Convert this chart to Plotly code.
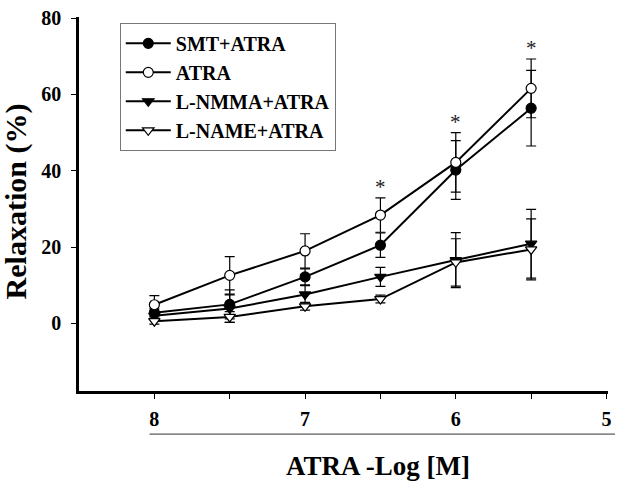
import plotly.graph_objects as go

# ---- data ----
conc = [8, 7.5, 7, 6.5, 6, 5.5]
smt_atra = [2.8, 5.0, 12.2, 20.5, 40.2, 56.4]
smt_atra_se = [1.0, 3.8, 2.1, 3.2, 7.7, 9.9]
atra = [4.9, 12.6, 19.0, 28.4, 42.2, 61.6]
atra_se = [2.4, 4.9, 4.5, 4.5, 7.8, 7.7]
lnmma_atra = [2.0, 3.9, 7.6, 12.2, 16.6, 20.9]
lnmma_atra_se = [0.8, 3.6, 2.3, 2.5, 7.2, 9.0]
lname_atra = [0.6, 1.7, 4.5, 6.4, 16.0, 19.4]
lname_atra_se = [0.8, 1.4, 1.0, 1.0, 6.2, 8.0]
signif_x = [6.5, 6, 5.5]

x_tickvals = [8, 7.5, 7, 6.5, 6, 5.5, 5]
x_ticktext = ["8", "", "7", "", "6", "", "5"]
y_tickvals = [0, 20, 40, 60, 80]

FONT = "Liberation Serif"

series = [
    ("SMT+ATRA", smt_atra, smt_atra_se, "circle", "black"),
    ("ATRA", atra, atra_se, "circle", "white"),
    ("L-NMMA+ATRA", lnmma_atra, lnmma_atra_se, "triangle-down", "black"),
    ("L-NAME+ATRA", lname_atra, lname_atra_se, "triangle-down", "white"),
]

fig = go.Figure()
for name, ys, se, sym, fill in series:
    fig.add_trace(go.Scatter(
        x=conc, y=ys, name=name, mode="lines+markers",
        line=dict(color="black", width=2),
        marker=dict(symbol=sym, size=10, color=fill,
                    line=dict(color="black", width=1.2)),
        error_y=dict(type="data", array=se, visible=True,
                     color="black", thickness=1.2, width=5),
    ))

# significance asterisks
atra_map = dict(zip(conc, zip(atra, atra_se)))
for sx in signif_x:
    v, s = atra_map[sx]
    fig.add_annotation(x=sx, y=v + s + 3.4, text="*", showarrow=False,
                       font=dict(family=FONT, size=21, color="#222222"),
                       xanchor="center", yanchor="middle", yshift=-2)

fig.update_layout(
    width=618, height=486,
    margin=dict(l=79, r=7, t=9, b=95),
    paper_bgcolor="white", plot_bgcolor="white",
    font=dict(family=FONT, color="black"),
    showlegend=True,
    legend=dict(
        x=(120 - 79) / 532, y=1 - (15 - 9) / 382, xanchor="left", yanchor="top",
        bgcolor="white", bordercolor="#777777", borderwidth=1,
        font=dict(family=FONT, size=20, color="black", weight="bold"),
        tracegroupgap=0, itemwidth=45,
    ),
    xaxis=dict(
        range=[8.5, 4.99], tickvals=x_tickvals, ticktext=x_ticktext,
        showgrid=False, zeroline=False, showline=True,
        linecolor="black", linewidth=3,
        ticks="outside", ticklen=5, tickwidth=1, tickcolor="black",
        tickfont=dict(family=FONT, size=20, color="black", weight="bold"),
        ticklabelstandoff=3, ticklabeloverflow="allow",
    ),
    yaxis=dict(
        range=[-17.7, 80.3], tickvals=y_tickvals,
        showgrid=False, zeroline=False, showline=True,
        linecolor="black", linewidth=2.5,
        ticks="outside", ticklen=5, tickwidth=1, tickcolor="black",
        tickfont=dict(family=FONT, size=20, color="black", weight="bold"),
        ticklabelstandoff=6, ticklabeloverflow="allow",
    ),
)

# axis titles
fig.add_annotation(xref="paper", yref="paper", x=(380 - 79) / 532, y=-(468 - 391) / 382,
                   text="ATRA -Log [M]", showarrow=False,
                   xanchor="center", yanchor="middle",
                   font=dict(family=FONT, size=27, color="black", weight="bold"))
fig.add_annotation(xref="paper", yref="paper", x=(16 - 79) / 532, y=1 - (197 - 9) / 382,
                   text="Relaxation (%)", showarrow=False, textangle=-90,
                   xanchor="center", yanchor="middle",
                   font=dict(family=FONT, size=30, color="black", weight="bold"))

# decorative line under x tick labels
fig.add_shape(type="line", xref="paper", yref="paper",
              x0=(150 - 79) / 532, x1=(618 - 79) / 532,
              y0=-(435 - 391) / 382, y1=-(435 - 391) / 382,
              line=dict(color="#333333", width=1))

fig.write_html("out.html",
               config={"displayModeBar": False},
               post_script="document.body.style.margin='0px';document.body.style.overflow='hidden';")
